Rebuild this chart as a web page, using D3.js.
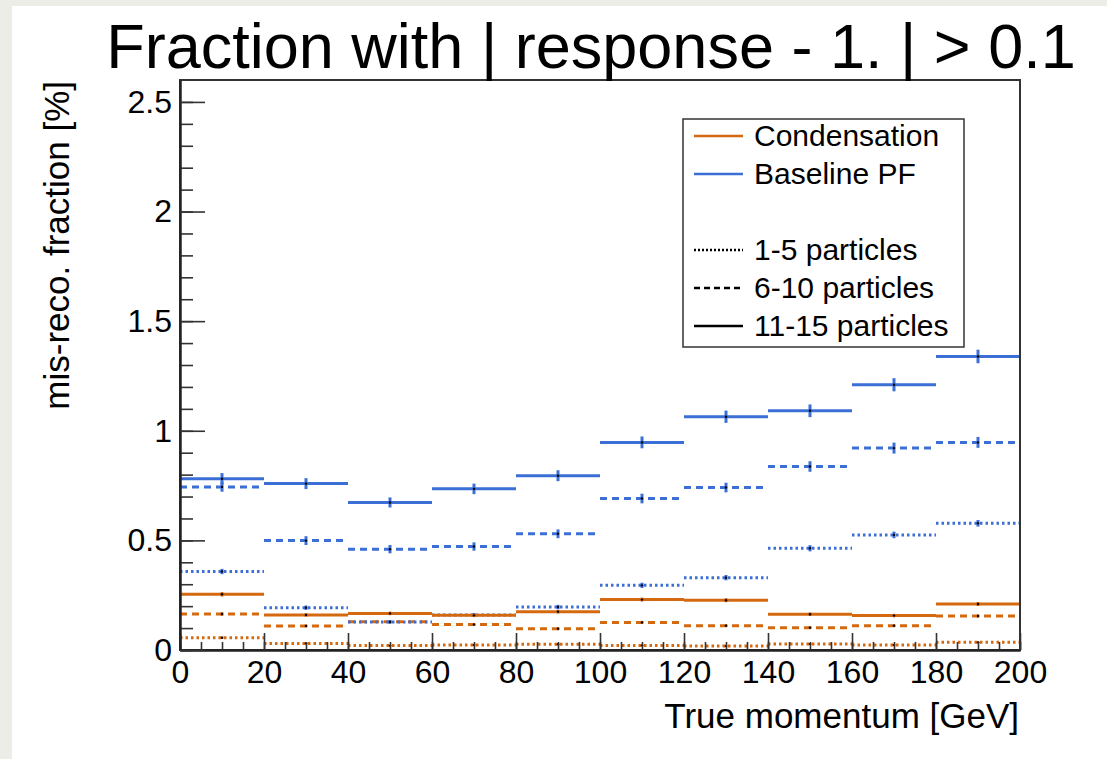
<!DOCTYPE html>
<html>
<head>
<meta charset="utf-8">
<script src="https://cdn.jsdelivr.net/npm/d3@7"></script>
<style>
  html, body { margin: 0; padding: 0; background: #edede7; }
  svg { display: block; }
  .axis text { font-family: "Liberation Sans", Arial, sans-serif; }
</style>
</head>
<body>
<svg id="chart" width="1107" height="759"></svg>
<script>
// bin edges of the momentum histogram [GeV]
var binEdges = [0, 20, 40, 60, 80, 100, 120, 140, 160, 180, 200];
var xTicks = [0, 20, 40, 60, 80, 100, 120, 140, 160, 180, 200];
var yTicks = [0, 0.5, 1, 1.5, 2, 2.5];

// Condensation (orange)
var condDotted = [0.056, 0.030, 0.020, 0.023, 0.026, 0.021, 0.018, 0.027, 0.023, 0.035];
var condDashed = [0.164, 0.110, 0.129, 0.116, 0.097, 0.126, 0.111, 0.102, 0.111, 0.155];
var condSolid  = [0.254, 0.160, 0.167, 0.158, 0.175, 0.230, 0.227, 0.163, 0.157, 0.210];
var condDottedErr = [0.006, 0.004, 0.003, 0.003, 0.004, 0.003, 0.003, 0.004, 0.003, 0.004];
var condDashedErr = [0.008, 0.006, 0.007, 0.006, 0.006, 0.007, 0.006, 0.006, 0.006, 0.007];
var condSolidErr  = [0.010, 0.008, 0.008, 0.008, 0.008, 0.009, 0.009, 0.008, 0.008, 0.009];

// Baseline PF (blue)
var baseDotted = [0.358, 0.193, 0.128, 0.160, 0.196, 0.295, 0.330, 0.464, 0.525, 0.578];
var baseDashed = [0.744, 0.499, 0.460, 0.472, 0.530, 0.691, 0.741, 0.837, 0.921, 0.947];
var baseSolid  = [0.781, 0.759, 0.673, 0.735, 0.795, 0.947, 1.064, 1.091, 1.210, 1.339];
var baseDottedErr = [0.012, 0.010, 0.008, 0.009, 0.010, 0.012, 0.012, 0.014, 0.015, 0.015];
var baseDashedErr = [0.022, 0.020, 0.019, 0.019, 0.020, 0.022, 0.022, 0.024, 0.025, 0.025];
var baseSolidErr  = [0.026, 0.025, 0.023, 0.024, 0.025, 0.027, 0.028, 0.029, 0.030, 0.031];

var legendNames = ["Condensation", "Baseline PF", "", "1-5 particles", "6-10 particles", "11-15 particles"];

var ORANGE = "#d4690f", BLUE = "#3b6fd6";
var DASH = { dotted: "2.5,3", dashed: "7,5", solid: null };

var svg = d3.select("#chart");
var font = '"Liberation Sans", Arial, Helvetica, sans-serif';

// white pad like the ROOT canvas
svg.append("rect").attr("x", 12).attr("y", 6).attr("width", 1107 - 12).attr("height", 759 - 6).attr("fill", "#fff");

var x = d3.scaleLinear().domain([0, 200]).range([180, 1020]);
var y = d3.scaleLinear().domain([0, 2.6]).range([650, 80]);

// series, drawn in this order
var series = [
	{vals: condDotted, errs: condDottedErr, color: ORANGE, style: "dotted"},
	{vals: condDashed, errs: condDashedErr, color: ORANGE, style: "dashed"},
	{vals: baseDotted, errs: baseDottedErr, color: BLUE, style: "dotted"},
	{vals: condSolid,  errs: condSolidErr,  color: ORANGE, style: "solid"},
	{vals: baseDashed, errs: baseDashedErr, color: BLUE, style: "dashed"},
	{vals: baseSolid,  errs: baseSolidErr,  color: BLUE, style: "solid"}
];

var plot = svg.append("g").attr("class", "plot");
series.forEach(function(s){
	var g = plot.append("g");
	var bins = s.vals.map(function(v, i){
		return {lo: binEdges[i], hi: binEdges[i + 1], v: v, e: s.errs[i]};
	});
	g.selectAll("line.h").data(bins).enter().append("line").attr("class", "h")
		.attr("x1", function(d){ return x(d.lo); })
		.attr("x2", function(d){ return x(d.hi); })
		.attr("y1", function(d){ return y(d.v); })
		.attr("y2", function(d){ return y(d.v); })
		.attr("stroke", s.color)
		.attr("stroke-width", 3)
		.attr("stroke-dasharray", DASH[s.style]);
	g.selectAll("line.v").data(bins).enter().append("line").attr("class", "v")
		.attr("x1", function(d){ return x((d.lo + d.hi) / 2); })
		.attr("x2", function(d){ return x((d.lo + d.hi) / 2); })
		.attr("y1", function(d){ return y(d.v - d.e); })
		.attr("y2", function(d){ return y(d.v + d.e); })
		.attr("stroke", s.color)
		.attr("stroke-width", 3);
	g.selectAll("circle").data(bins).enter().append("circle")
		.attr("cx", function(d){ return x((d.lo + d.hi) / 2); })
		.attr("cy", function(d){ return y(d.v); })
		.attr("r", 1.2)
		.attr("fill", "#000");
});

// frame
svg.append("rect").attr("x", x(0)).attr("y", y(2.6))
	.attr("width", x(200) - x(0)).attr("height", y(0) - y(2.6))
	.attr("fill", "none").attr("stroke", "#333").attr("stroke-width", 2);

// axes (ticks pointing inward, ROOT style)
var xMinor = svg.append("g").attr("class", "axis").attr("transform", "translate(0," + y(0) + ")")
	.call(d3.axisBottom(x).tickValues(d3.range(0, 201, 5)).tickSize(-8).tickSizeOuter(0).tickFormat(""));
var xMajor = svg.append("g").attr("class", "axis").attr("transform", "translate(0," + y(0) + ")")
	.call(d3.axisBottom(x).tickValues(xTicks).tickSize(-17).tickSizeOuter(0).tickPadding(10)
		.tickFormat(function(d){ return String(d); }));
var yMinor = svg.append("g").attr("class", "axis").attr("transform", "translate(" + x(0) + ",0)")
	.call(d3.axisLeft(y).tickValues(d3.range(0, 26, 1).map(function(i){ return i / 10; })).tickSize(-13).tickSizeOuter(0).tickFormat(""));
var yMajor = svg.append("g").attr("class", "axis").attr("transform", "translate(" + x(0) + ",0)")
	.call(d3.axisLeft(y).tickValues(yTicks).tickSize(-25).tickSizeOuter(0).tickPadding(8)
		.tickFormat(function(d){ return String(d); }));

svg.selectAll(".axis .domain").attr("stroke", "#222").attr("stroke-width", 2);
svg.selectAll(".axis .tick line").attr("stroke", "#333").attr("stroke-width", 1.6);
svg.selectAll(".axis text").attr("font-size", 32).attr("fill", "#000");

// title
svg.append("text").attr("x", 591).attr("y", 68)
	.attr("text-anchor", "middle").attr("font-family", font).attr("font-size", 63)
	.attr("fill", "#000").text("Fraction with | response - 1. | > 0.1");

// axis titles
svg.append("text").attr("x", 1019).attr("y", 728)
	.attr("text-anchor", "end").attr("font-family", font).attr("font-size", 35)
	.text("True momentum [GeV]");
svg.append("text").attr("transform", "translate(69,81) rotate(-90)")
	.attr("text-anchor", "end").attr("font-family", font).attr("font-size", 35)
	.text("mis-reco. fraction [%]");

// legend
var leg = svg.append("g").attr("class", "legend");
leg.append("rect").attr("x", 683).attr("y", 119).attr("width", 281).attr("height", 228)
	.attr("fill", "#fff").attr("stroke", "#333").attr("stroke-width", 1.5);
var legItems = [
	{name: legendNames[0], color: ORANGE, style: "solid"},
	{name: legendNames[1], color: BLUE, style: "solid"},
	{name: legendNames[2], color: null, style: null},
	{name: legendNames[3], color: "#000", style: "dotted"},
	{name: legendNames[4], color: "#000", style: "dashed"},
	{name: legendNames[5], color: "#000", style: "solid"}
];
var legRow = d3.scaleLinear().domain([0, 5]).range([136, 326]);
legItems.forEach(function(it, i){
	var cy = legRow(i);
	if (it.color) {
		leg.append("line").attr("x1", 694).attr("x2", 743).attr("y1", cy).attr("y2", cy)
			.attr("stroke", it.color).attr("stroke-width", 2.5)
			.attr("stroke-dasharray", it.style == "dotted" ? "2,2" : (it.style == "dashed" ? "6,4" : null));
	}
	if (it.name) {
		leg.append("text").attr("x", 754).attr("y", cy + 10)
			.attr("font-family", font).attr("font-size", 30).attr("fill", "#000")
			.text(it.name);
	}
});
</script>
</body>
</html>
